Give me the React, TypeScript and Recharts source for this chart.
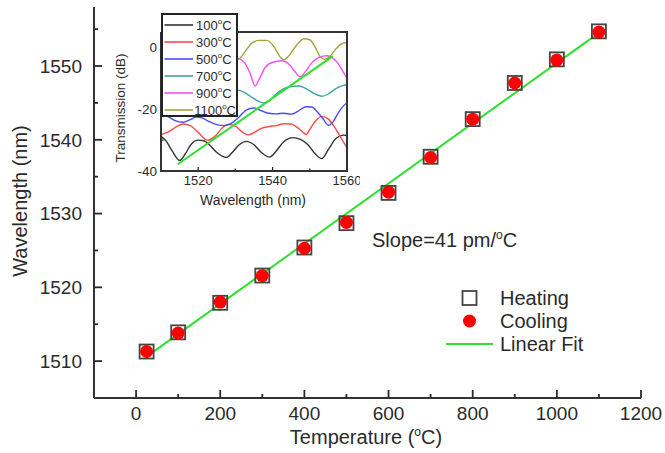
import React from 'react'
import { ComposedChart, LineChart, Line, Scatter, XAxis, YAxis, Legend, Label } from 'recharts'

const FONT = '"Liberation Sans", Arial, Helvetica, sans-serif'
const INK = '#2a2a2a'
const GREEN = '#2fe02f'

// main plot: peak wavelength vs temperature
const TEMPS = [25, 100, 200, 300, 400, 500, 600, 700, 800, 900, 1000, 1100]
const HEATING = [1511.3, 1513.9, 1517.9, 1521.6, 1525.4, 1528.7, 1532.8, 1537.7, 1542.8, 1547.7, 1550.9, 1554.7]
const COOLING = [1511.3, 1513.8, 1518.0, 1521.6, 1525.3, 1528.8, 1532.9, 1537.6, 1542.8, 1547.7, 1550.8, 1554.6]
const FIT_TEMPS = [25, 1100]
const FIT_VALUES = [1510.6, 1554.5]
const LEGEND_NAMES = ['Heating', 'Cooling', 'Linear Fit']

const TEMP_TICKS = [0, 100, 200, 300, 400, 500, 600, 700, 800, 900, 1000, 1100, 1200]
const TEMP_LABELS = [0, 200, 400, 600, 800, 1000, 1200]
const WL_TICKS = [1510, 1515, 1520, 1525, 1530, 1535, 1540, 1545, 1550, 1555]
const WL_LABELS = [1510, 1520, 1530, 1540, 1550]

// inset: transmission spectra [wavelength nm, dB]
const SPEC_LABELS = ['100', '300', '500', '700', '900', '1100']
const SPEC_COLORS = ['#333333', '#ff4a4a', '#4a4aff', '#3fa3a3', '#ff4aff', '#a3a33f']

const SPEC_100 = [
  [1510, -28.8], [1511.5, -30.5], [1513, -33.5], [1515, -36.6], [1516.5, -34.5], [1518, -31.5],
  [1520, -30], [1521.5, -30.2], [1523, -31.5], [1525, -34], [1527.5, -35.6], [1529.5, -33.5],
  [1531, -31.5], [1533, -30.4], [1535, -31.5], [1537, -34], [1539.2, -35.5], [1541, -33.5],
  [1543, -30.5], [1545.5, -29.2], [1547.5, -29.8], [1549.5, -31.5], [1551.5, -34.5], [1553.2, -36],
  [1555, -33], [1557, -29.5], [1559, -28.4], [1560, -28.5],
]
const SPEC_300 = [
  [1510, -28.2], [1512, -27.3], [1514, -25.8], [1516, -24.8], [1518, -25.4], [1520, -27.5],
  [1522.5, -30], [1524.5, -28.8], [1526.5, -26], [1528, -24.9], [1530, -25.5], [1532, -27.5],
  [1533.5, -28.3], [1535, -27.6], [1537, -26.2], [1539, -25.6], [1541, -25.3], [1543, -24.7],
  [1545, -24.8], [1546.5, -25.8], [1548, -27.3], [1549, -28.2], [1550, -26.5], [1551.5, -23.8],
  [1553.3, -22.3], [1555, -23.2], [1556.5, -25.5], [1558, -28.5], [1559, -30.5], [1560, -32.5],
]
const SPEC_500 = [
  [1510, -21.5], [1512, -22.5], [1514, -23.8], [1516, -24.2], [1518, -23.3], [1519.5, -22.5],
  [1521, -22.8], [1523, -24], [1525, -25], [1527, -25.3], [1529, -24.5], [1531, -22.5],
  [1533, -20.2], [1535, -19.6], [1537, -20.5], [1539, -21.3], [1541, -21.5], [1543, -21.3],
  [1545, -21.6], [1547, -20.5], [1549, -19.2], [1550.5, -19.3], [1552, -20.8], [1553.5, -23],
  [1555, -25.2], [1556.3, -24], [1557.5, -21.5], [1559, -19], [1560, -18],
]
const SPEC_700 = [
  [1510, -14.5], [1513, -15.5], [1516, -14], [1519, -13], [1522, -14], [1525, -15.5],
  [1528, -14.5], [1530, -13.8], [1532, -14.3], [1534, -15.8], [1536, -17.3], [1537.6, -18],
  [1539, -17.3], [1541, -15], [1543, -13.3], [1545, -12.7], [1547, -12.5], [1549, -13.3],
  [1551, -14.8], [1553.3, -15.8], [1555, -15], [1557, -13.3], [1559, -12.3], [1560, -12],
]
const SPEC_900 = [
  [1510, -4], [1514, -8], [1518, -4], [1522, -7], [1526, -4], [1529, -3.2],
  [1531, -3.6], [1532.5, -5], [1534, -8.5], [1535.3, -12.5], [1536.5, -10], [1538, -6.5],
  [1540, -4.8], [1542.5, -4.3], [1544.5, -5.5], [1546, -7.8], [1547.5, -9.5], [1549, -7.5],
  [1550.5, -5], [1552.5, -3.2], [1554.5, -2.7], [1556, -3.3], [1557.5, -5], [1559, -8], [1560, -10],
]
const SPEC_1100 = [
  [1510, 0], [1514, -3], [1518, 1.5], [1522, -2], [1526, 1], [1529, -2.5],
  [1530.8, -3.8], [1532.5, -1.5], [1534.5, 1.5], [1536.5, 2.3], [1538.5, 2.3], [1540.5, 0],
  [1542, -3], [1543, -4], [1544.5, -2.5], [1546.5, 0.8], [1548.5, 2.8], [1550, 2.5],
  [1551.5, 0], [1552.8, -3], [1554, -3.8], [1555.5, -2.8], [1557, -0.5], [1558.5, 1.2], [1560, 1.6],
]
const SPECTRA = [SPEC_100, SPEC_300, SPEC_500, SPEC_700, SPEC_900, SPEC_1100]
const INSET_FIT_WL = [1514.5, 1556.2]
const INSET_FIT_DB = [-37.8, -2.8]

const INSET_WL_TICKS = [1510, 1520, 1530, 1540, 1550, 1560]
const INSET_WL_LABELS = [1520, 1540, 1560]
const INSET_DB_TICKS = [-40, -30, -20, -10, 0]
const INSET_DB_LABELS = [-40, -20, 0]

const heatingData = TEMPS.map((t, i) => ({ t, v: HEATING[i] }))
const coolingData = TEMPS.map((t, i) => ({ t, v: COOLING[i] }))
const fitData = FIT_TEMPS.map((t, i) => ({ t, v: FIT_VALUES[i] }))
const spectraData = SPECTRA.map((s) => s.map(([wl, db]) => ({ wl, db })))
const insetFitData = INSET_FIT_WL.map((wl, i) => ({ wl, db: INSET_FIT_DB[i] }))

const frame = { stroke: '#333', strokeWidth: 2 }
const insetFrame = { stroke: '#333', strokeWidth: 2 }

// inset sits at (100, 5); its plot box is 186 x 139 starting at (61, 27) inside it
const INSET_LEFT = 100
const INSET_TOP = 5
const BOX_L = INSET_LEFT + 61
const BOX_T = INSET_TOP + 27
const BOX_W = 186
const BOX_H = 139
const INSET_LEGEND_W = 77

// ticks point into the plot, labels sit outside
function bottomTick(labels: number[], major: number, minor: number, fontSize: number, dy: number, sw: number) {
  return (props: any) => {
    const { x, y, payload } = props
    const isMajor = labels.includes(payload.value)
    return (
      <g>
        <line x1={x} x2={x} y1={y} y2={y - (isMajor ? major : minor)} stroke={INK} strokeWidth={sw} />
        {isMajor && (
          <text x={x} y={y + dy} textAnchor="middle" fontSize={fontSize} fill={INK} fontFamily={FONT}>
            {payload.value}
          </text>
        )}
      </g>
    )
  }
}

function leftTick(labels: number[], major: number, minor: number, fontSize: number, gap: number, sw: number) {
  return (props: any) => {
    const { x, y, payload } = props
    const isMajor = labels.includes(payload.value)
    return (
      <g>
        <line x1={x} x2={x + (isMajor ? major : minor)} y1={y} y2={y} stroke={INK} strokeWidth={sw} />
        {isMajor && (
          <text x={x - gap} y={y} dy="0.36em" textAnchor="end" fontSize={fontSize} fill={INK} fontFamily={FONT}>
            {payload.value}
          </text>
        )}
      </g>
    )
  }
}

const Deg = ({ size }: { size: number }) => (
  <span style={{ fontSize: size, position: 'relative', top: -size * 0.7 }}>o</span>
)

// one solid edge of the inset box
const Edge = ({ left, top, width, height }: { left: number; top: number; width: number; height: number }) => (
  <div style={{ position: 'absolute', left, top, width, height, background: '#333', pointerEvents: 'none', zIndex: 5 }} />
)

function MainLegend() {
  return (
    <div style={{ fontFamily: FONT, fontSize: 20, color: INK }}>
      {LEGEND_NAMES.map((name, i) => (
        <div key={name} style={{ display: 'flex', alignItems: 'center', height: 23 }}>
          <svg width={47} height={16} style={{ display: 'block' }}>
            {i === 0 && <rect x={16.5} y={1} width={14} height={14} fill="none" stroke="#444" strokeWidth={1.8} />}
            {i === 1 && <circle cx={23.5} cy={8} r={6.5} fill="#ff0000" />}
            {i === 2 && <line x1={0} x2={47} y1={8} y2={8} stroke={GREEN} strokeWidth={2} />}
          </svg>
          <span style={{ marginLeft: 7, lineHeight: 1 }}>{name}</span>
        </div>
      ))}
    </div>
  )
}

function InsetLegend() {
  return (
    <div
      style={{
        width: INSET_LEGEND_W,
        height: 104,
        boxSizing: 'border-box',
        border: '2px solid #222',
        background: '#fff',
        paddingTop: 1.5,
        fontFamily: FONT,
        color: INK,
      }}
    >
      {SPEC_LABELS.map((lab, i) => (
        <div key={lab} style={{ display: 'flex', alignItems: 'center', height: 17 }}>
          <svg width={32} height={4} style={{ display: 'block' }}>
            <line x1={1.5} x2={30} y1={2} y2={2} stroke={SPEC_COLORS[i]} strokeWidth={1.6} />
          </svg>
          <span style={{ fontSize: 13, lineHeight: 1, marginLeft: 1 }}>
            {lab}
            <Deg size={8} />C
          </span>
        </div>
      ))}
    </div>
  )
}

function Inset() {
  return (
    <LineChart width={260} height={210} margin={{ top: 27, right: 13, bottom: 0, left: 0 }}>
      <XAxis
        xAxisId="wl"
        dataKey="wl"
        type="number"
        domain={[1510, 1560]}
        ticks={INSET_WL_TICKS}
        interval={0}
        height={44}
        tickSize={0}
        tickMargin={0}
        tickLine={false}
        axisLine={insetFrame}
        tick={bottomTick(INSET_WL_LABELS, 4, 2.5, 13, 14, 1.3)}
      >
        <Label
          content={() => (
            <text x={153} y={200} textAnchor="middle" fontSize={14} fill={INK} fontFamily={FONT}>
              Wavelength (nm)
            </text>
          )}
        />
      </XAxis>
      <YAxis
        yAxisId="db"
        dataKey="db"
        type="number"
        domain={[-40, 5]}
        ticks={INSET_DB_TICKS}
        interval={0}
        width={61}
        tickSize={0}
        tickMargin={0}
        tickLine={false}
        axisLine={insetFrame}
        tick={leftTick(INSET_DB_LABELS, 4, 2.5, 13.5, 4, 1.3)}
      >
        <Label
          content={() => (
            <text
              x={20}
              y={103}
              transform="rotate(-90 20 103)"
              textAnchor="middle"
              dominantBaseline="central"
              fontSize={13.5}
              fill={INK}
              fontFamily={FONT}
            >
              Transmission (dB)
            </text>
          )}
        />
      </YAxis>
      {spectraData.map((d, i) => (
        <Line
          key={SPEC_LABELS[i]}
          xAxisId="wl"
          yAxisId="db"
          data={d}
          dataKey="db"
          type="monotone"
          stroke={SPEC_COLORS[i]}
          strokeWidth={1.4}
          dot={false}
          isAnimationActive={false}
        />
      ))}
      <Line xAxisId="wl" yAxisId="db" data={insetFitData} dataKey="db" stroke={GREEN} strokeWidth={2} dot={false} isAnimationActive={false} />
      <Legend
        layout="vertical"
        verticalAlign="middle"
        align="center"
        content={() => <InsetLegend />}
        wrapperStyle={{ position: 'absolute', left: 61, top: 8, width: INSET_LEGEND_W, height: 104 }}
      />
    </LineChart>
  )
}

export default function App() {
  return (
    <div style={{ position: 'fixed', left: 0, top: 0, width: 665, height: 453, background: '#fff', fontFamily: FONT }}>
      <ComposedChart width={665} height={453} margin={{ top: 7, right: 24, bottom: 0, left: 0 }}>
        <XAxis
          xAxisId="b"
          dataKey="t"
          type="number"
          domain={[-100, 1200]}
          ticks={TEMP_TICKS}
          interval={0}
          height={55}
          tickSize={0}
          tickMargin={0}
          tickLine={false}
          axisLine={frame}
          tick={bottomTick(TEMP_LABELS, 8, 4, 19, 22, 1.8)}
        >
          <Label
            content={() => (
              <text x={366} y={444} textAnchor="middle" fontSize={20} fill={INK} fontFamily={FONT}>
                Temperature (<tspan dy={-8} fontSize={12}>o</tspan>
                <tspan dy={8}>C)</tspan>
              </text>
            )}
          />
        </XAxis>
        <XAxis xAxisId="top" orientation="top" type="number" domain={[-100, 1200]} height={0} tick={false} tickLine={false} axisLine={frame} />
        <YAxis
          yAxisId="l"
          dataKey="v"
          type="number"
          domain={[1505, 1558]}
          ticks={WL_TICKS}
          interval={0}
          width={94}
          tickSize={0}
          tickMargin={0}
          tickLine={false}
          axisLine={frame}
          tick={leftTick(WL_LABELS, 8, 4, 19, 12, 1.8)}
        >
          <Label
            content={() => (
              <text
                x={20}
                y={201}
                transform="rotate(-90 20 201)"
                textAnchor="middle"
                dominantBaseline="central"
                fontSize={20}
                fill={INK}
                fontFamily={FONT}
              >
                Wavelength (nm)
              </text>
            )}
          />
        </YAxis>
        <YAxis yAxisId="r" orientation="right" type="number" domain={[1505, 1558]} width={0} tick={false} tickLine={false} axisLine={frame} />
        <Scatter
          xAxisId="b"
          yAxisId="l"
          data={heatingData}
          dataKey="v"
          isAnimationActive={false}
          shape={(p: any) => <rect x={p.cx - 7} y={p.cy - 7} width={14} height={14} fill="none" stroke="#444" strokeWidth={1.8} />}
        />
        <Scatter
          xAxisId="b"
          yAxisId="l"
          data={coolingData}
          dataKey="v"
          isAnimationActive={false}
          shape={(p: any) => <circle cx={p.cx} cy={p.cy} r={6.5} fill="#ff0000" />}
        />
        <Line xAxisId="b" yAxisId="l" data={fitData} dataKey="v" stroke={GREEN} strokeWidth={2} dot={false} isAnimationActive={false} />
        <Legend
          layout="vertical"
          verticalAlign="middle"
          align="center"
          content={() => <MainLegend />}
          wrapperStyle={{ position: 'absolute', left: 446, top: 286, width: 190 }}
        />
      </ComposedChart>
      <div style={{ position: 'absolute', left: INSET_LEFT, top: INSET_TOP }}>
        <Inset />
      </div>
      {/* inset plot box edges; the top edge starts where the inset legend ends */}
      <Edge left={BOX_L + INSET_LEGEND_W - 1} top={BOX_T - 1} width={BOX_W - INSET_LEGEND_W + 2} height={2} />
      <Edge left={BOX_L - 1} top={BOX_T + 85 - 1} width={2} height={BOX_H - 85 + 2} />
      <Edge left={BOX_L + BOX_W - 1} top={BOX_T - 1} width={2} height={BOX_H + 2} />
      <Edge left={BOX_L - 1} top={BOX_T + BOX_H - 1} width={BOX_W + 2} height={2} />
      <div style={{ position: 'absolute', left: 372, top: 230, fontSize: 20, lineHeight: 1, color: INK, whiteSpace: 'nowrap' }}>
        Slope=41 pm/<Deg size={12} />C
      </div>
    </div>
  )
}
